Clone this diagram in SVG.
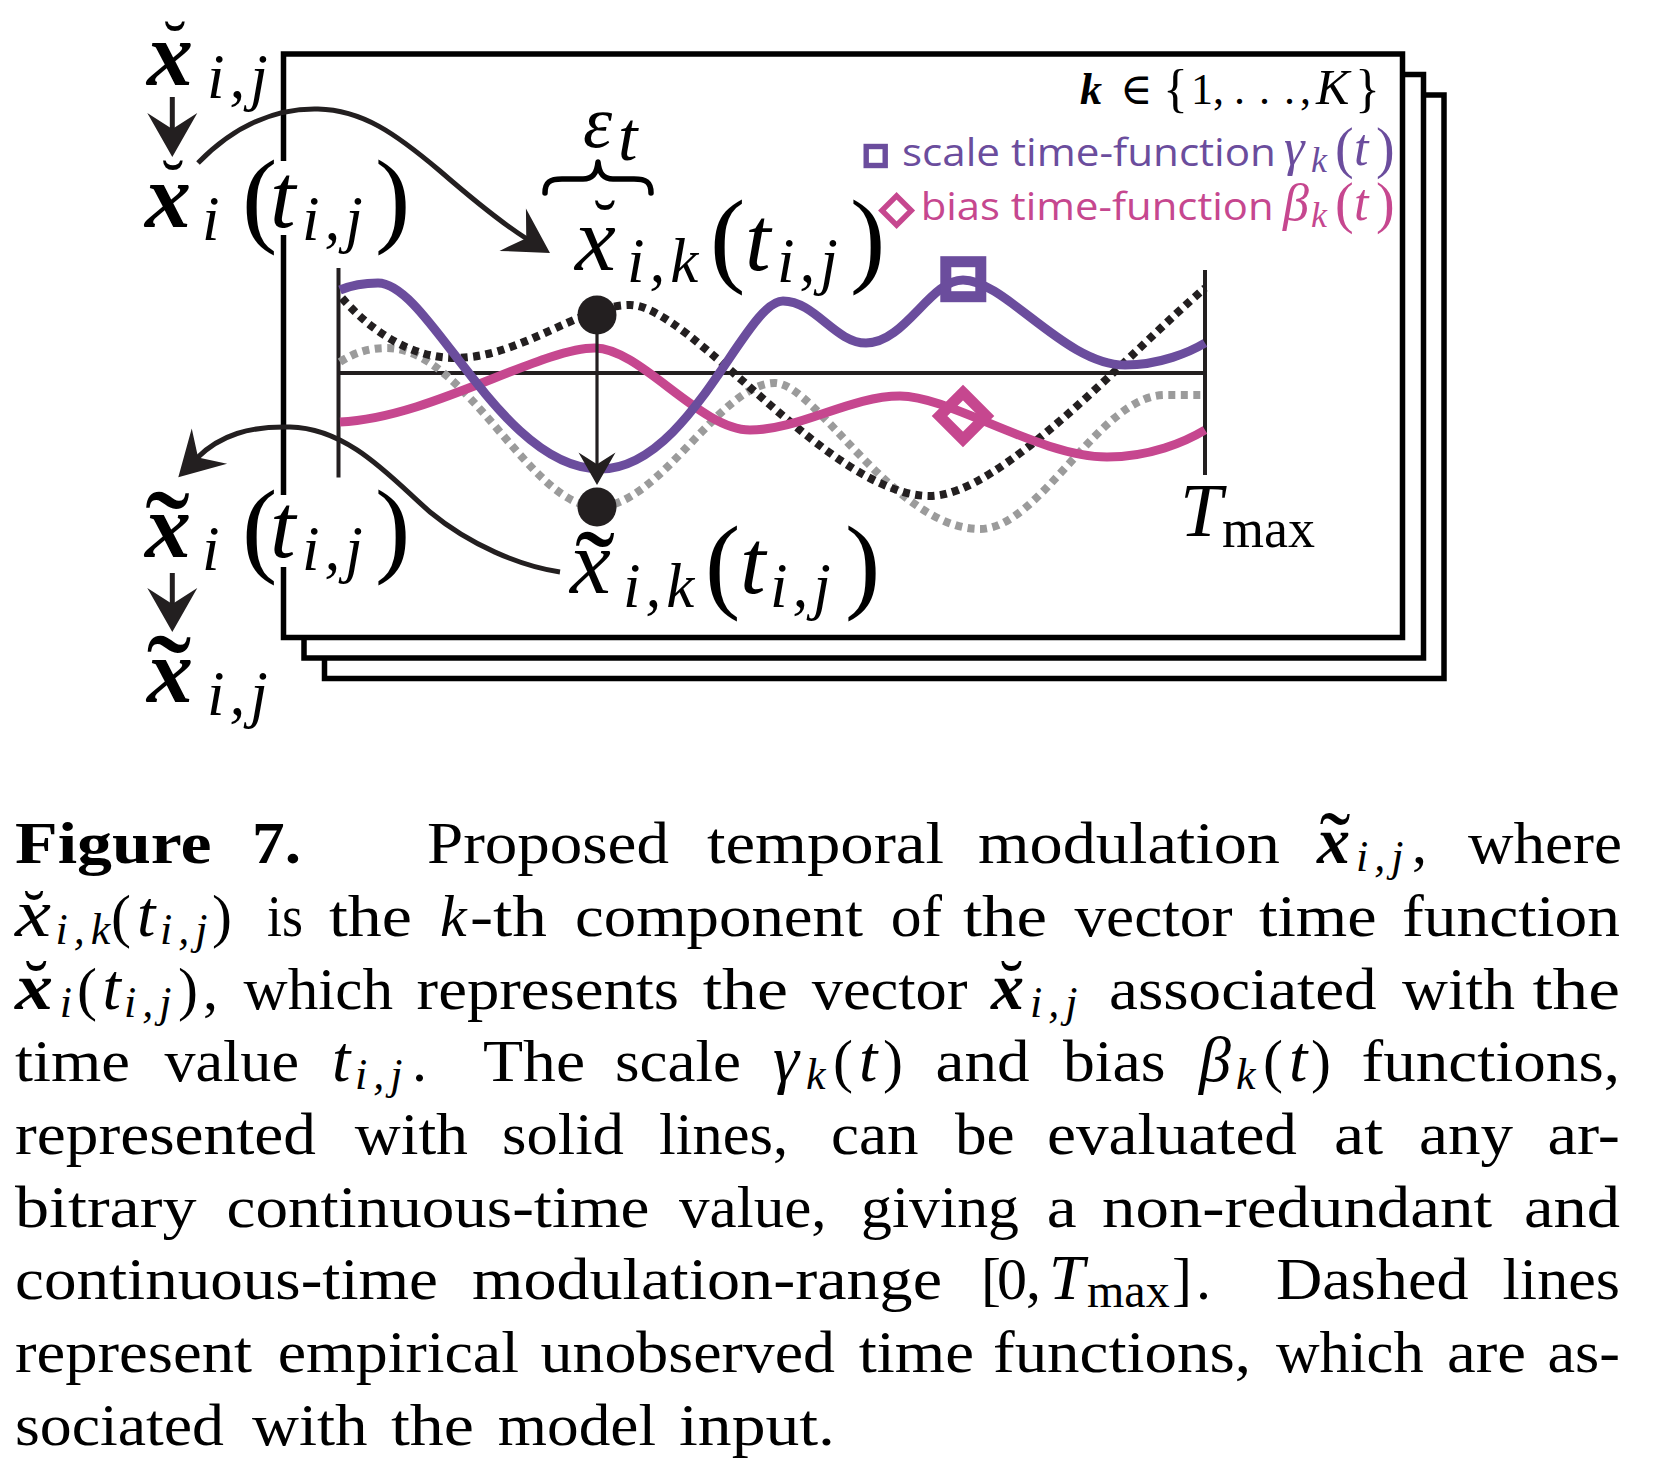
<svg xmlns="http://www.w3.org/2000/svg" width="1662" height="1476" viewBox="0 0 1662 1476">
<style>
.bx{fill:#fff;stroke:#000;stroke-width:5.5}
.ax{stroke:#231f20;stroke-width:4;fill:none}
.pu{stroke:#6b4d9d;stroke-width:9;fill:none}
.pk{stroke:#c6478f;stroke-width:9;fill:none}
.dk{stroke:#231f20;stroke-width:8;stroke-dasharray:7 5.5;fill:none}
.gy{stroke:#9b9b9b;stroke-width:8;stroke-dasharray:7 5.5;fill:none}
.cn{fill:none;stroke:#231f20;stroke-width:5}
.ah{fill:#231f20}
.m{font-family:"Liberation Serif","DejaVu Serif",serif;fill:#000}
.it{font-style:italic}
.bi{font-style:italic;font-weight:bold}
.L{font-size:92px}
.S{font-size:63px;letter-spacing:5px}
.P{font-size:106px}
.leg{font-family:"Open Sans","Noto Sans",sans-serif;font-size:39px}
.c{font-family:"Liberation Serif","DejaVu Serif",serif;font-size:60px;fill:#000}
.cs{font-size:44px;font-style:italic;letter-spacing:6px}
</style>
<defs>
<path id="ah" class="ah" d="M0,0 L-44,-25 L-28,0 L-44,25 Z"/>
</defs>

<g id="frames">
<rect class="bx" x="324.5" y="95" width="1119.5" height="583.5"/>
<rect class="bx" x="304" y="74.5" width="1119.5" height="583.5"/>
<rect class="bx" x="283.5" y="54" width="1119" height="583.5"/>
</g>

<g id="plot">
<line class="ax" x1="338.5" y1="268" x2="338.5" y2="477.5"/>
<line class="ax" x1="1205" y1="270" x2="1205" y2="475"/>
<line class="ax" x1="338.5" y1="373" x2="1205" y2="373"/>
<path class="gy" d="M340,362 C355,352 370,348 387,348 C465,348 530,507 597,507 C660,507 720,383 775,383 C815,383 895,529 980,529 C1040,529 1100,395 1165,395 L1205,395"/>
<path class="dk" d="M342,298 C370,330 410,358 455,358 C520,358 580,305 630,305 C690,305 830,496 930,496 C1000,496 1130,352 1205,288"/>
<path class="pk" d="M340,422 C430,418 540,348 595,348 C640,348 700,430 750,430 C800,430 850,396 900,396 C950,396 1040,457 1107,457 C1150,457 1185,442 1205,430"/>
<path class="pu" d="M340,290 C352,285 365,283 378,283 C430,283 500,469 600,469 C690,469 745,301 783,301 C815,301 835,343 866,343 C905,343 930,280 963,280 C1005,280 1065,365 1125,365 C1160,365 1190,352 1205,343"/>
<rect x="945.8" y="261.7" width="35" height="35" fill="none" stroke="#6b4d9d" stroke-width="11"/>
<polygon points="963,392.5 986.5,416 963,439.5 939.5,416" fill="none" stroke="#c6478f" stroke-width="11"/>
<line x1="597" y1="315" x2="597" y2="466" stroke="#231f20" stroke-width="3.2"/>
<use href="#ah" transform="translate(597,485) rotate(90) scale(0.74)"/>
<circle cx="597" cy="315" r="19.5" fill="#231f20"/>
<circle cx="597" cy="507" r="19.5" fill="#231f20"/>
</g>

<g id="connectors">
<path class="cn" d="M198,163 C236,124 278,108 318,109 C362,110 395,133 440,171 C470,197 500,222 527,239"/>
<use href="#ah" transform="translate(550,253) rotate(32)"/>
<path class="cn" d="M560,572 C520,566 470,545 430,512 C395,482 350,428 290,427 C250,426 220,435 197,458"/>
<use href="#ah" transform="translate(178.3,477.3) rotate(135)"/>
<line class="cn" x1="172.3" y1="97" x2="172.3" y2="132"/>
<use href="#ah" transform="translate(172.3,157) rotate(90)"/>
<line class="cn" x1="172.3" y1="573" x2="172.3" y2="608"/>
<use href="#ah" transform="translate(172.3,632) rotate(90)"/>
</g>

<g id="n-xij-breve">
<text class="m bi L" x="147" y="85">x</text>
<text class="m" x="175" y="69" font-size="70" text-anchor="middle">˘</text>
<text class="m it S" x="207" y="98">i,j</text>
</g>

<g id="n-xi-breve">
<rect x="279" y="161" width="9" height="74" fill="#fff"/>
<text class="m bi L" x="145" y="227">x</text>
<text class="m" x="173" y="208" font-size="70" text-anchor="middle">˘</text>
<text class="m it S" x="202" y="240">i</text>
<text class="m P" x="242" y="232.5">(</text>
<text class="m it L" x="270" y="227">t</text>
<text class="m it S" x="302" y="240">i,j</text>
<text class="m P" x="375" y="232.5">)</text>
</g>

<g id="n-xik-breve">
<text class="m it L" x="575" y="270">x</text>
<text class="m" x="605" y="248" font-size="70" text-anchor="middle">˘</text>
<text class="m it S" x="627" y="282">i,k</text>
<text class="m P" x="710" y="273">(</text>
<text class="m it L" x="745" y="270">t</text>
<text class="m it S" x="777" y="282">i,j</text>
<text class="m P" x="850" y="273">)</text>
</g>

<g id="n-eps">
<path d="M545,193 C545,182 550,179 562,179 L583,179 C593,179 597,173 598,162 C599,173 603,179 613,179 L634,179 C646,179 651,182 651,193" fill="none" stroke="#000" stroke-width="5.5" stroke-linecap="round" stroke-linejoin="round"/>
<text class="m it" x="583" y="146.7" font-size="74">ε</text>
<text class="m it" x="618" y="160" font-size="70">t</text>
</g>

<g id="n-xik-tilde">
<text class="m it L" x="570" y="593.3">x</text>
<text class="m" x="595" y="613" font-size="120" text-anchor="middle">˜</text>
<text class="m it S" x="623" y="606.7">i,k</text>
<text class="m P" x="705" y="599">(</text>
<text class="m it L" x="740" y="593.3">t</text>
<text class="m it S" x="770" y="606.7">i,j</text>
<text class="m P" x="845" y="599">)</text>
</g>

<g id="n-xi-tilde">
<rect x="279" y="495" width="9" height="72" fill="#fff"/>
<text class="m bi L" x="145" y="556.7">x</text>
<text class="m" x="167.5" y="583" font-size="135" text-anchor="middle">˜</text>
<text class="m it S" x="202" y="570">i</text>
<text class="m P" x="242" y="562.5">(</text>
<text class="m it L" x="270" y="556.7">t</text>
<text class="m it S" x="302" y="570">i,j</text>
<text class="m P" x="375" y="562.5">)</text>
</g>

<g id="n-xij-tilde">
<text class="m bi L" x="147" y="701.7">x</text>
<text class="m" x="169" y="727" font-size="135" text-anchor="middle">˜</text>
<text class="m it S" x="207" y="715">i,j</text>
</g>

<g id="n-tmax">
<text class="m it" x="1180" y="536" font-size="76">T</text>
<text class="m" x="1222" y="547" font-size="54">max</text>
</g>

<g id="legend">
<text class="m bi" x="1080" y="103.5" font-size="44">k</text>
<text class="m" x="1120" y="103.5" font-size="44">∈</text>
<text class="m" x="1163" y="106" font-size="52">{</text>
<text class="m" x="1191" y="103.5" font-size="44">1</text>
<text class="m" x="1213" y="103.5" font-size="44">,</text>
<text class="m" x="1234" y="103.5" font-size="44">.</text>
<text class="m" x="1259" y="103.5" font-size="44">.</text>
<text class="m" x="1284" y="103.5" font-size="44">.</text>
<text class="m" x="1300" y="103.5" font-size="44">,</text>
<text class="m it" x="1316" y="103.5" font-size="50">K</text>
<text class="m" x="1355" y="106" font-size="52">}</text>
<rect x="866.2" y="146.5" width="19" height="19" fill="none" stroke="#6b4d9d" stroke-width="5.4"/>
<text class="leg" x="902" y="165.7" fill="#6b4d9d" textLength="374" lengthAdjust="spacingAndGlyphs">scale time-function</text>
<text class="m it" x="1284" y="165" font-size="52" style="fill:#6b4d9d">γ</text>
<text class="m it" x="1311" y="172" font-size="36" style="fill:#6b4d9d">k</text>
<text class="m" x="1335" y="167" font-size="56" style="fill:#6b4d9d">(</text>
<text class="m it" x="1354" y="165" font-size="52" style="fill:#6b4d9d">t</text>
<text class="m" x="1376" y="167" font-size="56" style="fill:#6b4d9d">)</text>
<polygon points="896.6,195.8 911.3,210.5 896.6,225.2 881.9,210.5" fill="none" stroke="#c6478f" stroke-width="5.4"/>
<text class="leg" x="920.7" y="220.3" fill="#c6478f" textLength="353" lengthAdjust="spacingAndGlyphs">bias time-function</text>
<text class="m it" x="1283" y="220" font-size="52" style="fill:#c6478f">β</text>
<text class="m it" x="1311" y="227" font-size="36" style="fill:#c6478f">k</text>
<text class="m" x="1335" y="221.5" font-size="56" style="fill:#c6478f">(</text>
<text class="m it" x="1354" y="220" font-size="52" style="fill:#c6478f">t</text>
<text class="m" x="1376" y="221.5" font-size="56" style="fill:#c6478f">)</text>
</g>

<g id="caption">
<text class="c" x="15" y="863" font-weight="bold" textLength="196.5" lengthAdjust="spacingAndGlyphs">Figure</text>
<text class="c" x="252" y="863" font-weight="bold" textLength="49" lengthAdjust="spacingAndGlyphs">7.</text>
<text class="c" x="427" y="863" textLength="242" lengthAdjust="spacingAndGlyphs">Proposed</text>
<text class="c" x="707" y="863" textLength="237" lengthAdjust="spacingAndGlyphs">temporal</text>
<text class="c" x="978" y="863" textLength="302" lengthAdjust="spacingAndGlyphs">modulation</text>
<text class="c" x="1317" y="863" font-style="italic" font-weight="bold" style="font-size:66px">x</text>
<text class="c" x="1335" y="876" style="font-size:93px" text-anchor="middle">˜</text>
<text class="c cs" x="1356" y="871">i,j</text>
<text class="c" x="1412" y="863">,</text>
<text class="c" x="1468" y="863" textLength="154" lengthAdjust="spacingAndGlyphs">where</text>

<text class="c" x="15" y="936" font-style="italic" style="font-size:68px" textLength="36" lengthAdjust="spacingAndGlyphs">x</text>
<text class="c" x="34" y="936" style="font-size:65px" text-anchor="middle">˘</text>
<text class="c cs" x="55.5" y="944">i,k</text>
<text class="c" x="111" y="936">(</text>
<text class="c" x="137" y="936" font-style="italic" style="font-size:66px">t</text>
<text class="c cs" x="160" y="944">i,j</text>
<text class="c" x="212" y="936">)</text>
<text class="c" x="267" y="936" textLength="36" lengthAdjust="spacingAndGlyphs">is</text>
<text class="c" x="329" y="936" textLength="83" lengthAdjust="spacingAndGlyphs">the</text>
<text class="c" x="440" y="936" font-style="italic">k</text>
<text class="c" x="470" y="936" textLength="77" lengthAdjust="spacingAndGlyphs">-th</text>
<text class="c" x="575" y="936" textLength="288" lengthAdjust="spacingAndGlyphs">component</text>
<text class="c" x="890.7" y="936" textLength="51.3" lengthAdjust="spacingAndGlyphs">of</text>
<text class="c" x="963" y="936" textLength="84" lengthAdjust="spacingAndGlyphs">the</text>
<text class="c" x="1074.5" y="936" textLength="158" lengthAdjust="spacingAndGlyphs">vector</text>
<text class="c" x="1259" y="936" textLength="117.6" lengthAdjust="spacingAndGlyphs">time</text>
<text class="c" x="1402" y="936" textLength="218" lengthAdjust="spacingAndGlyphs">function</text>

<text class="c" x="15" y="1008.5" font-style="italic" font-weight="bold" style="font-size:66px" textLength="38" lengthAdjust="spacingAndGlyphs">x</text>
<text class="c" x="36.3" y="1010" style="font-size:72px" text-anchor="middle">˘</text>
<text class="c cs" x="59.8" y="1016.5">i</text>
<text class="c" x="77" y="1008.5">(</text>
<text class="c" x="102.5" y="1008.5" font-style="italic" style="font-size:66px">t</text>
<text class="c cs" x="124" y="1016.5">i,j</text>
<text class="c" x="178" y="1008.5">)</text>
<text class="c" x="203" y="1008.5">,</text>
<text class="c" x="243.6" y="1008.5" textLength="149.4" lengthAdjust="spacingAndGlyphs">which</text>
<text class="c" x="416.6" y="1008.5" textLength="262.4" lengthAdjust="spacingAndGlyphs">represents</text>
<text class="c" x="702.7" y="1008.5" textLength="85.3" lengthAdjust="spacingAndGlyphs">the</text>
<text class="c" x="811.7" y="1008.5" textLength="155.9" lengthAdjust="spacingAndGlyphs">vector</text>
<text class="c" x="991" y="1008.5" font-style="italic" font-weight="bold" style="font-size:66px">x</text>
<text class="c" x="1011.5" y="1010" style="font-size:72px" text-anchor="middle">˘</text>
<text class="c cs" x="1030" y="1016.5">i,j</text>
<text class="c" x="1109" y="1008.5" textLength="267.6" lengthAdjust="spacingAndGlyphs">associated</text>
<text class="c" x="1402" y="1008.5" textLength="113" lengthAdjust="spacingAndGlyphs">with</text>
<text class="c" x="1532.5" y="1008.5" textLength="87.5" lengthAdjust="spacingAndGlyphs">the</text>

<text class="c" x="15" y="1081" textLength="115" lengthAdjust="spacingAndGlyphs">time</text>
<text class="c" x="164.5" y="1081" textLength="134.5" lengthAdjust="spacingAndGlyphs">value</text>
<text class="c" x="332" y="1081" font-style="italic" style="font-size:66px">t</text>
<text class="c cs" x="355" y="1089">i,j</text>
<text class="c" x="412" y="1081">.</text>
<text class="c" x="483" y="1081" textLength="102" lengthAdjust="spacingAndGlyphs">The</text>
<text class="c" x="615" y="1081" textLength="126" lengthAdjust="spacingAndGlyphs">scale</text>
<text class="c" x="773" y="1081" font-style="italic" style="font-size:66px">γ</text>
<text class="c cs" x="806" y="1089">k</text>
<text class="c" x="833" y="1081">(</text>
<text class="c" x="859" y="1081" font-style="italic" style="font-size:66px">t</text>
<text class="c" x="883" y="1081">)</text>
<text class="c" x="935.6" y="1081" textLength="94" lengthAdjust="spacingAndGlyphs">and</text>
<text class="c" x="1063" y="1081" textLength="102.5" lengthAdjust="spacingAndGlyphs">bias</text>
<text class="c" x="1199" y="1081" font-style="italic" style="font-size:64px">β</text>
<text class="c cs" x="1236" y="1089">k</text>
<text class="c" x="1263" y="1081">(</text>
<text class="c" x="1289" y="1081" font-style="italic" style="font-size:66px">t</text>
<text class="c" x="1311" y="1081">)</text>
<text class="c" x="1361.6" y="1081" textLength="258.4" lengthAdjust="spacingAndGlyphs">functions,</text>

<text class="c" x="15" y="1154" textLength="301" lengthAdjust="spacingAndGlyphs">represented</text>
<text class="c" x="354.7" y="1154" textLength="113.3" lengthAdjust="spacingAndGlyphs">with</text>
<text class="c" x="502" y="1154" textLength="122" lengthAdjust="spacingAndGlyphs">solid</text>
<text class="c" x="659" y="1154" textLength="129" lengthAdjust="spacingAndGlyphs">lines,</text>
<text class="c" x="831" y="1154" textLength="87.5" lengthAdjust="spacingAndGlyphs">can</text>
<text class="c" x="955" y="1154" textLength="59.7" lengthAdjust="spacingAndGlyphs">be</text>
<text class="c" x="1047" y="1154" textLength="250" lengthAdjust="spacingAndGlyphs">evaluated</text>
<text class="c" x="1334" y="1154" textLength="49" lengthAdjust="spacingAndGlyphs">at</text>
<text class="c" x="1419" y="1154" textLength="94" lengthAdjust="spacingAndGlyphs">any</text>
<text class="c" x="1547.5" y="1154" textLength="72.5" lengthAdjust="spacingAndGlyphs">ar-</text>

<text class="c" x="15" y="1226.5" textLength="181.6" lengthAdjust="spacingAndGlyphs">bitrary</text>
<text class="c" x="226.5" y="1226.5" textLength="423" lengthAdjust="spacingAndGlyphs">continuous-time</text>
<text class="c" x="679" y="1226.5" textLength="147.6" lengthAdjust="spacingAndGlyphs">value,</text>
<text class="c" x="861" y="1226.5" textLength="158" lengthAdjust="spacingAndGlyphs">giving</text>
<text class="c" x="1046.7" y="1226.5" textLength="29.9" lengthAdjust="spacingAndGlyphs">a</text>
<text class="c" x="1102" y="1226.5" textLength="390" lengthAdjust="spacingAndGlyphs">non-redundant</text>
<text class="c" x="1524" y="1226.5" textLength="96" lengthAdjust="spacingAndGlyphs">and</text>

<text class="c" x="15" y="1299" textLength="423" lengthAdjust="spacingAndGlyphs">continuous-time</text>
<text class="c" x="472" y="1299" textLength="470" lengthAdjust="spacingAndGlyphs">modulation-range</text>
<text class="c" x="981" y="1299">[</text>
<text class="c" x="997" y="1299">0</text>
<text class="c" x="1026" y="1299">,</text>
<text class="c" x="1049" y="1299" font-style="italic" style="font-size:64px">T</text>
<text class="c" x="1087" y="1307" style="font-size:48px">max</text>
<text class="c" x="1172" y="1299">]</text>
<text class="c" x="1196" y="1299">.</text>
<text class="c" x="1276" y="1299" textLength="192.5" lengthAdjust="spacingAndGlyphs">Dashed</text>
<text class="c" x="1502.6" y="1299" textLength="117.4" lengthAdjust="spacingAndGlyphs">lines</text>

<text class="c" x="15" y="1371.5" textLength="237" lengthAdjust="spacingAndGlyphs">represent</text>
<text class="c" x="277.7" y="1371.5" textLength="241.3" lengthAdjust="spacingAndGlyphs">empirical</text>
<text class="c" x="540.5" y="1371.5" textLength="294.5" lengthAdjust="spacingAndGlyphs">unobserved</text>
<text class="c" x="858.7" y="1371.5" textLength="115.3" lengthAdjust="spacingAndGlyphs">time</text>
<text class="c" x="993" y="1371.5" textLength="258" lengthAdjust="spacingAndGlyphs">functions,</text>
<text class="c" x="1276" y="1371.5" textLength="147.6" lengthAdjust="spacingAndGlyphs">which</text>
<text class="c" x="1447" y="1371.5" textLength="79" lengthAdjust="spacingAndGlyphs">are</text>
<text class="c" x="1547.5" y="1371.5" textLength="72.5" lengthAdjust="spacingAndGlyphs">as-</text>

<text class="c" x="15" y="1444.5" textLength="209" lengthAdjust="spacingAndGlyphs">sociated</text>
<text class="c" x="252" y="1444.5" textLength="115.5" lengthAdjust="spacingAndGlyphs">with</text>
<text class="c" x="391" y="1444.5" textLength="83" lengthAdjust="spacingAndGlyphs">the</text>
<text class="c" x="497.8" y="1444.5" textLength="158.2" lengthAdjust="spacingAndGlyphs">model</text>
<text class="c" x="679" y="1444.5" textLength="156" lengthAdjust="spacingAndGlyphs">input.</text>
</g>
</svg>
